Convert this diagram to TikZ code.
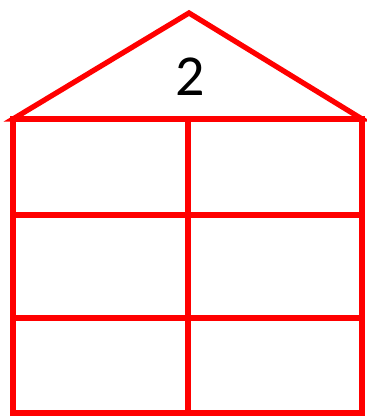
\documentclass[tikz,border=0pt]{standalone}
\usepackage{fontspec}
\setmainfont{Carlito}
\usetikzlibrary{positioning}

\begin{document}
\begin{tikzpicture}[x=0.02cm,y=-0.02cm,
  wall/.style={draw=red,line width=3pt,line join=miter},
  label/.style={font=\fontsize{33}{36}\selectfont,text=black}
]
  \useasboundingbox (0,0) rectangle (367,418);
  % Roof
  \draw[wall] (13,119) -- (189,13) -- (362,119) -- cycle;
  \node[label] (num) at (190,77) {2};
  % Floors
  \draw[wall] (13,119) rectangle (362,413);
  \draw[wall] (188,119) -- (188,413);
  \draw[wall] (13,215) -- (362,215);
  \draw[wall] (13,318) -- (362,318);
\end{tikzpicture}
\end{document}
